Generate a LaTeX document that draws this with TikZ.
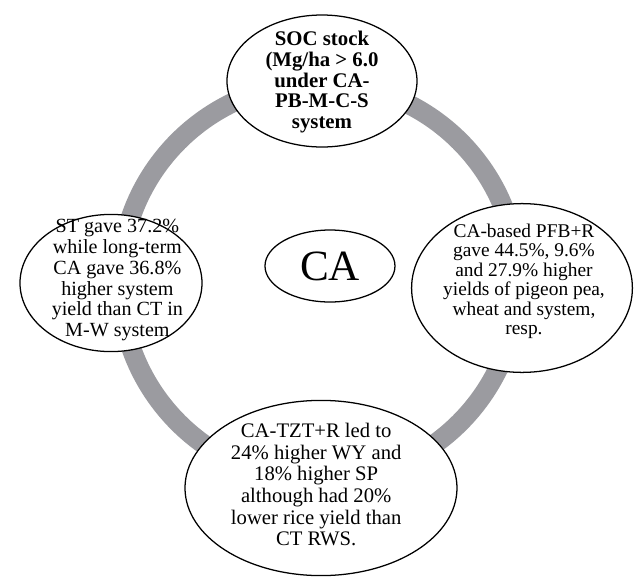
\documentclass[tikz,border=0pt]{standalone}
\usepackage{fontspec}
\setmainfont{Liberation Serif}
\usepackage{tikz}
\usetikzlibrary{shapes.geometric,calc}
\definecolor{ringgray}{RGB}{155,155,160}

\begin{document}
\begin{tikzpicture}[
    bubble/.style={ellipse, draw, line width=0.9pt, fill=white, inner sep=0pt},
    bubbletext/.style={align=center, inner sep=0pt, font=\fontsize{14.3}{14.8}\selectfont}
  ]
      \useasboundingbox (-7.975,-7.4) rectangle (7.95,7.05);
      \coordinate (ring) at (0,0);
      \draw[ringgray, line width=14pt] (ring) circle (4.975);

      % the four outer bubbles
      \node[bubble, minimum width=4.75cm, minimum height=3.3cm] (soc) at (0.075,5.025) {};
      \node[bubble, minimum width=4.55cm, minimum height=3.43cm] (st) at (-5.2,-0.025) {};
      \node[bubble, minimum width=5.52cm, minimum height=4.22cm] (pfb) at (5.075,-0.15) {};
      \node[bubble, minimum width=6.8cm, minimum height=4.38cm] (tzt) at (0.05,-5.15) {};

      \node[bubbletext, font=\bfseries\fontsize{14.8}{14.7}\selectfont] (soc-txt) at ($(soc)+(0,-0.03)$)
        {SOC stock\\(Mg/ha > 6.0\\under CA-\\PB-M-C-S\\system};
      \node[bubbletext] (st-txt) at ($(st)+(0.16,0.07)$)
        {ST gave 37.2\%\\while long-term\\CA gave 36.8\%\\higher system\\yield than CT in\\M-W system};
      \node[bubbletext, font=\fontsize{13.8}{13.9}\selectfont] (pfb-txt) at ($(pfb)+(0.05,0.17)$)
        {CA-based PFB+R\\gave 44.5\%, 9.6\%\\and 27.9\% higher\\yields of pigeon pea,\\wheat and system,\\resp.};
      \node[bubbletext, font=\fontsize{14.7}{15.4}\selectfont] (tzt-txt) at ($(tzt)+(-0.12,0.08)$)
        {CA-TZT+R led to\\24\% higher WY and\\18\% higher SP\\although had 20\%\\lower rice yield than\\CT RWS.};

      % centre
      \node[bubble, minimum width=3.25cm, minimum height=1.8cm, font=\fontsize{30.7}{32}\selectfont] (ca) at (0.275,0.4) {CA};
\end{tikzpicture}
\end{document}
